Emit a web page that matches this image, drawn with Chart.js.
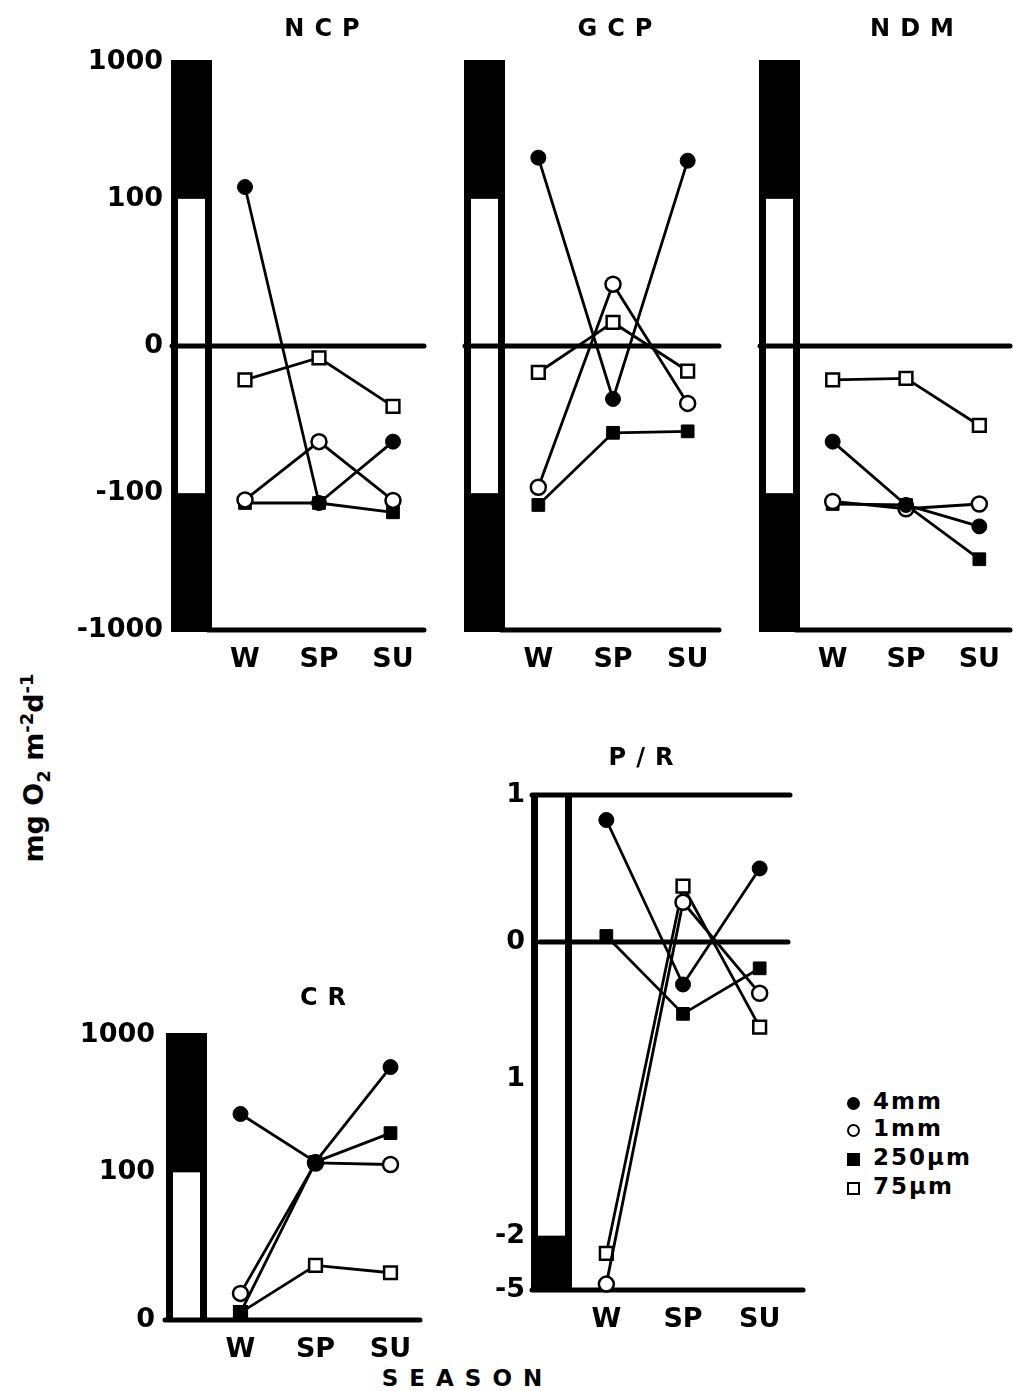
<!DOCTYPE html>
<html>
<head>
<meta charset="utf-8">
<script src="https://cdn.jsdelivr.net/npm/chart.js@4.4.1/dist/chart.umd.min.js"></script>
<style>
  html, body { margin: 0; padding: 0; background: #fff; overflow: hidden; }
  body { width: 1013px; height: 1391px; position: relative; font-family: "DejaVu Sans", sans-serif; font-weight: bold; color: #000; }
  canvas { position: absolute; }
  .ttl { position: absolute; font-size: 24px; letter-spacing: 10px; padding-left: 10px; transform: translate(-50%, -50%); white-space: nowrap; }
  .ylab { position: absolute; left: 35px; top: 768px; font-size: 27px; transform: translate(-50%, -50%) rotate(-90deg); white-space: nowrap; }
  .ylab sub, .ylab sup { font-size: 18px; }
  .season { position: absolute; left: 462px; top: 1378px; font-size: 23px; letter-spacing: 11px; padding-left: 11px; transform: translate(-50%, -50%); }
  .leg { position: absolute; font-size: 23px; letter-spacing: 2px; white-space: nowrap; }
  .mk { position: absolute; box-sizing: border-box; }
</style>
</head>
<body>
<div class="ylab">mg O<sub>2</sub> m<sup>-2</sup>d<sup>-1</sup></div>
<div class="season">SEASON</div>
<div id="legend"></div>

<script>
// x categories
const seasons = ['W', 'SP', 'SU'];
const sizeLabels = ['4mm', '1mm', '250µm', '75µm'];

// y ticks (mg O2 m-2 d-1 panels)
const topTicks = [1000, 100, 0, -100, -1000];
const topTickLabels = ['1000', '100', '0', '-100', '-1000'];
const crTicks = [1000, 100, 0];
const crTickLabels = ['1000', '100', '0'];
// P/R axis (positions in axis units, labels as printed)
const prTicks = [1, 0, -0.93, -2, -2.37];
const prTickLabels = ['1', '0', '1', '-2', '-5'];

// NCP
const ncp4mm = [122, -118, -65];
const ncp1mm = [-112, -65, -113];
const ncp250 = [-118, -118, -138];
const ncp75 = [-23, -8, -41];
// GCP
const gcp4mm = [200, -36, 190];
const gcp1mm = [-96, 42, -39];
const gcp250 = [-122, -59, -58];
const gcp75 = [-18, 16, -17];
// NDM
const ndm4mm = [-65, -122, -175];
const ndm1mm = [-115, -130, -120];
const ndm250 = [-120, -122, -304];
const ndm75 = [-23, -22, -54];
// CR
const cr4mm = [266, 119, 584];
const cr1mm = [18, 117, 114];
const cr250 = [5, 119, 193];
const cr75 = [5, 37, 32];
// P/R
const pr4mm = [0.83, -0.29, 0.50];
const pr1mm = [-2.33, 0.27, -0.35];
const pr250 = [0.04, -0.49, -0.18];
const pr75 = [-2.12, 0.38, -0.58];

// linear between -100 and 100, log beyond (like the printed axis)
const LOG_K = 0.93;
function sym(v) {
  const a = Math.abs(v);
  if (a <= 100) return v / 100;
  return Math.sign(v) * (1 + LOG_K * Math.log10(a / 100));
}
const same = v => v;

const markers = [
  { pointStyle: 'circle', fill: '#000', r: 7.5 },
  { pointStyle: 'circle', fill: '#fff', r: 7.5 },
  { pointStyle: 'rect', fill: '#000', r: 9 },
  { pointStyle: 'rect', fill: '#fff', r: 9 }
];

const FONT = { family: 'DejaVu Sans', weight: 'bold', size: 27 };
const Y_W = 150, PAD_T = 25, PAD_R = 14, X_H = 55;

const topRules = [
  { v: 0, x0: -36, x1: -6 },
  { v: -1000, x0: 0, x1: -6 }
];

const panels = [
  { title: 'NCP', tx: 322, ty: 28, L: 208, R: 430, T: 62, B: 630, tf: sym, min: -1000, max: 1000,
    ticks: topTicks, labels: topTickLabels, showTicks: true, pad: 37,
    series: [ncp4mm, ncp1mm, ncp250, ncp75], white: [[100, -100]], rules: topRules },
  { title: 'GCP', tx: 615, ty: 28, L: 501, R: 725, T: 62, B: 630, tf: sym, min: -1000, max: 1000,
    ticks: topTicks, labels: topTickLabels, showTicks: false, pad: 37,
    series: [gcp4mm, gcp1mm, gcp250, gcp75], white: [[100, -100]], rules: topRules },
  { title: 'NDM', tx: 912, ty: 28, L: 796, R: 1016, T: 62, B: 630, tf: sym, min: -1000, max: 1000,
    ticks: topTicks, labels: topTickLabels, showTicks: false, pad: 37,
    series: [ndm4mm, ndm1mm, ndm250, ndm75], white: [[100, -100]], rules: topRules },
  { title: 'CR', tx: 323, ty: 997, L: 203, R: 428, T: 1035, B: 1320, tf: sym, min: 0, max: 1000,
    ticks: crTicks, labels: crTickLabels, showTicks: true, pad: 40,
    series: [cr4mm, cr1mm, cr250, cr75], white: [[100, 0]],
    rules: [{ v: 0, x0: -38, x1: -8 }] },
  { title: 'P/R', tx: 641, ty: 757, L: 568, R: 798, T: 795, B: 1290, tf: same, min: -2.37, max: 1,
    ticks: prTicks, labels: prTickLabels, showTicks: true, pad: 35,
    series: [pr4mm, pr1mm, pr250, pr75], white: [[1, -2]],
    rules: [{ v: 1, x0: -36, x1: -8 }, { v: 0, x0: -28, x1: -10 }, { v: -2.37, x0: -36, x1: 5 }] }
];

// axis bar (black / white) and thick rules, placed through the y scale
const framePlugin = {
  id: 'frame',
  beforeDatasetsDraw(chart, args, o) {
    const { ctx, chartArea: a } = chart;
    const y = chart.scales.y;
    const L = a.left, R = a.right;
    ctx.save();
    ctx.fillStyle = '#000';
    ctx.fillRect(L - 37, a.top - 2, 41, a.bottom - a.top + 4);
    ctx.fillStyle = '#fff';
    o.white.forEach(([p, q]) => {
      const y1 = y.getPixelForValue(o.tf(p));
      const y2 = y.getPixelForValue(o.tf(q));
      ctx.fillRect(L - 30, y1, 27, y2 - y1);
    });
    ctx.strokeStyle = '#000';
    ctx.lineWidth = 5;
    ctx.lineCap = 'round';
    o.rules.forEach(r => {
      const yy = y.getPixelForValue(o.tf(r.v));
      ctx.beginPath();
      ctx.moveTo(L + r.x0, yy);
      ctx.lineTo(R + r.x1, yy);
      ctx.stroke();
    });
    ctx.restore();
  }
};

panels.forEach(p => {
  const cv = document.createElement('canvas');
  const w = Y_W + (p.R - p.L) + PAD_R;
  const h = PAD_T + (p.B - p.T) + X_H;
  cv.width = w; cv.height = h;
  cv.style.left = (p.L - Y_W) + 'px';
  cv.style.top = (p.T - PAD_T) + 'px';
  cv.style.width = w + 'px';
  cv.style.height = h + 'px';
  document.body.appendChild(cv);

  const t = document.createElement('div');
  t.className = 'ttl';
  t.textContent = p.title;
  t.style.left = p.tx + 'px';
  t.style.top = p.ty + 'px';
  document.body.appendChild(t);

  const datasets = p.series.map((s, i) => ({
    label: sizeLabels[i],
    data: s.map(p.tf),
    borderColor: '#000',
    borderWidth: 2.8,
    tension: 0,
    pointStyle: markers[i].pointStyle,
    pointRadius: markers[i].r,
    pointBackgroundColor: markers[i].fill,
    pointBorderColor: '#000',
    pointBorderWidth: markers[i].fill === '#fff' ? 2.5 : 1,
    clip: false
  }));

  new Chart(cv, {
    type: 'line',
    data: { labels: seasons, datasets },
    options: {
      responsive: false,
      animation: false,
      layout: { padding: { top: PAD_T, right: PAD_R, left: 0, bottom: 0 } },
      plugins: {
        legend: { display: false },
        tooltip: { enabled: false },
        frame: { tf: p.tf, white: p.white, rules: p.rules }
      },
      scales: {
        x: {
          type: 'category',
          offset: true,
          grid: { display: false },
          border: { display: false },
          ticks: { color: '#000', font: { family: 'DejaVu Sans', weight: 'bold', size: 27 }, padding: 6, maxRotation: 0 },
          afterFit: s => { s.height = X_H; s.paddingLeft = 0; s.paddingRight = 0; }
        },
        y: {
          type: 'linear',
          min: p.tf(p.min),
          max: p.tf(p.max),
          grid: { display: false },
          border: { display: false },
          afterBuildTicks: s => { s.ticks = p.ticks.map(v => ({ value: p.tf(v) })); },
          afterFit: s => { s.width = Y_W; s.paddingTop = 0; s.paddingBottom = 0; },
          ticks: {
            display: p.showTicks,
            autoSkip: false,
            padding: p.pad,
            color: '#000',
            font: FONT,
            callback: (v, i) => p.labels[i]
          }
        }
      }
    },
    plugins: [framePlugin]
  });
});

// legend
const legend = document.getElementById('legend');
const legendY = [1103, 1130, 1159, 1188];
sizeLabels.forEach((lab, i) => {
  const m = document.createElement('div');
  m.className = 'mk';
  const sz = 13;
  m.style.left = (853 - sz / 2) + 'px';
  m.style.top = (legendY[i] - sz / 2) + 'px';
  m.style.width = sz + 'px';
  m.style.height = sz + 'px';
  m.style.background = markers[i].fill;
  m.style.border = '2.5px solid #000';
  if (markers[i].pointStyle === 'circle') m.style.borderRadius = '50%';
  legend.appendChild(m);
  const t = document.createElement('div');
  t.className = 'leg';
  t.textContent = lab;
  t.style.left = '873px';
  t.style.top = (legendY[i] - 15) + 'px';
  legend.appendChild(t);
});
</script>
</body>
</html>
